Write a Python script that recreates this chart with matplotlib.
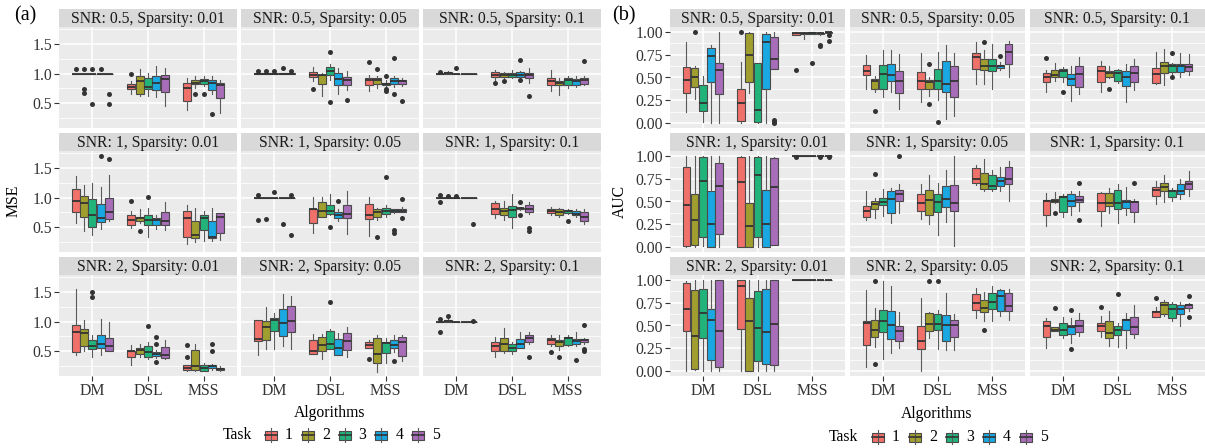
import matplotlib
matplotlib.use("Agg")
import matplotlib.pyplot as plt
from matplotlib.patches import Rectangle
from matplotlib.lines import Line2D

plt.rcParams['font.family'] = ['Liberation Serif', 'DejaVu Serif']

W, H = 1205, 448

ALGORITHMS = ["DM", "DSL", "MSS"]
TASKS = ["1", "2", "3", "4", "5"]
TASK_COLORS = ["#F0706A", "#A09E2E", "#22B37B", "#1AA8E2", "#A86DB8"]
SNR_LEVELS = ["0.5", "1", "2"]
SPARSITY_LEVELS = ["0.01", "0.05", "0.1"]

# each box: (whisker low, q1, median, q3, whisker high, outliers); groups: DM, DSL, MSS; tasks 1..5
MSE_05_001 = [
    [(1.00, 1.00, 1.00, 1.00, 1.00, [1.08]), (1.00, 1.00, 1.00, 1.00, 1.00, [1.08, 0.74, 0.68]),
     (1.00, 1.00, 1.00, 1.00, 1.00, [1.08, 0.49]), (1.00, 1.00, 1.00, 1.00, 1.00, [1.08]),
     (1.00, 1.00, 1.00, 1.00, 1.00, [0.66, 0.49])],
    [(0.65, 0.74, 0.78, 0.82, 0.87, [1.00]), (0.62, 0.66, 0.87, 0.96, 1.08, []),
     (0.62, 0.74, 0.78, 0.93, 1.01, []), (0.60, 0.73, 0.84, 0.96, 1.13, []),
     (0.46, 0.69, 0.91, 0.98, 1.10, [])],
    [(0.39, 0.54, 0.76, 0.84, 0.93, []), (0.76, 0.82, 0.84, 0.90, 0.96, [0.65]),
     (0.79, 0.82, 0.88, 0.91, 0.96, [0.65]), (0.65, 0.73, 0.84, 0.90, 0.96, [0.32]),
     (0.34, 0.59, 0.80, 0.84, 0.90, [])],
]
MSE_05_005 = [
    [(1.00, 1.00, 1.00, 1.01, 1.01, [1.04]), (1.00, 1.00, 1.00, 1.01, 1.01, [1.04]),
     (1.00, 1.00, 1.00, 1.01, 1.01, [1.04]), (1.00, 1.00, 1.00, 1.01, 1.01, [1.09]),
     (1.00, 1.00, 1.00, 1.01, 1.01, [1.04])],
    [(0.87, 0.94, 0.97, 1.03, 1.12, [0.74]), (0.63, 0.82, 0.97, 0.98, 1.01, []),
     (0.90, 0.97, 1.05, 1.11, 1.16, [1.36, 0.52]), (0.66, 0.81, 0.91, 1.01, 1.10, []),
     (0.73, 0.80, 0.90, 0.94, 1.04, [0.56])],
    [(0.70, 0.80, 0.90, 0.92, 0.98, [1.20]), (0.76, 0.83, 0.90, 0.93, 0.96, [1.08]),
     (0.77, 0.80, 0.83, 0.85, 0.90, [0.96, 0.74, 0.70]), (0.78, 0.83, 0.88, 0.92, 0.96, [1.26, 0.66]),
     (0.79, 0.82, 0.88, 0.90, 0.93, [0.54])],
]
MSE_05_01 = [
    [(1.00, 1.00, 1.00, 1.00, 1.00, [1.02]), (0.99, 1.00, 1.01, 1.03, 1.04, []),
     (1.00, 1.00, 1.00, 1.00, 1.00, [1.10]), (1.00, 1.00, 1.00, 1.00, 1.00, []),
     (1.00, 1.00, 1.00, 1.00, 1.00, [])],
    [(0.90, 0.94, 0.98, 1.02, 1.06, [0.84]), (0.93, 0.94, 0.98, 1.01, 1.02, [0.88]),
     (0.93, 0.95, 0.98, 1.01, 1.06, []), (0.91, 0.94, 0.98, 1.02, 1.05, [1.23, 0.90]),
     (0.84, 0.92, 0.98, 1.01, 1.10, [0.62])],
    [(0.70, 0.81, 0.87, 0.92, 1.06, []), (0.64, 0.80, 0.84, 0.87, 0.93, []),
     (0.76, 0.81, 0.90, 0.93, 0.96, []), (0.78, 0.81, 0.88, 0.91, 0.96, []),
     (0.80, 0.83, 0.90, 0.93, 0.96, [1.22])],
]
MSE_1_001 = [
    [(0.57, 0.75, 0.94, 1.15, 1.37, []), (0.44, 0.68, 0.91, 1.02, 1.21, []),
     (0.37, 0.50, 0.71, 0.97, 1.25, []), (0.47, 0.58, 0.66, 0.90, 1.18, [1.71]),
     (0.61, 0.64, 0.75, 0.99, 1.39, [1.65])],
    [(0.48, 0.54, 0.62, 0.70, 0.78, [0.95]), (0.57, 0.61, 0.66, 0.68, 0.80, [0.43]),
     (0.34, 0.54, 0.62, 0.71, 0.83, [1.01]), (0.47, 0.54, 0.62, 0.66, 0.70, []),
     (0.45, 0.53, 0.60, 0.75, 0.93, [])],
    [(0.21, 0.33, 0.66, 0.77, 0.87, []), (0.25, 0.31, 0.37, 0.60, 0.83, []),
     (0.27, 0.45, 0.66, 0.71, 0.78, []), (0.27, 0.31, 0.33, 0.61, 0.83, []),
     (0.28, 0.41, 0.68, 0.74, 0.74, [])],
]
MSE_1_005 = [
    [(1.00, 1.00, 1.00, 1.00, 1.00, [1.05, 0.62]), (1.00, 1.00, 1.00, 1.00, 1.00, [0.64]),
     (1.00, 1.00, 1.00, 1.00, 1.00, [1.10]), (1.00, 1.00, 1.00, 1.00, 1.00, [0.55]),
     (1.00, 1.00, 1.00, 1.00, 1.00, [1.05, 0.37])],
    [(0.41, 0.57, 0.80, 0.81, 1.01, []), (0.67, 0.68, 0.78, 0.93, 1.01, []),
     (0.70, 0.73, 0.78, 0.87, 1.06, [0.50]), (0.60, 0.66, 0.70, 0.75, 0.80, [0.95]),
     (0.39, 0.66, 0.73, 0.87, 1.11, [])],
    [(0.35, 0.64, 0.70, 0.89, 1.01, []), (0.62, 0.67, 0.75, 0.81, 0.82, [0.33]),
     (0.68, 0.73, 0.78, 0.83, 0.87, [1.35]), (0.74, 0.75, 0.78, 0.80, 0.81, [0.45, 0.41]),
     (0.75, 0.75, 0.78, 0.81, 0.85, [0.97, 0.65])],
]
MSE_1_01 = [
    [(1.00, 1.00, 1.00, 1.00, 1.00, [1.05, 0.93]), (1.00, 1.00, 1.00, 1.00, 1.00, [1.03]),
     (1.00, 1.00, 1.00, 1.00, 1.00, [1.03]), (1.00, 1.00, 1.00, 1.00, 1.00, []),
     (1.00, 1.00, 1.00, 1.00, 1.00, [0.55])],
    [(0.66, 0.73, 0.81, 0.91, 0.95, []), (0.63, 0.71, 0.78, 0.83, 0.94, []),
     (0.49, 0.67, 0.79, 0.86, 1.07, []), (0.79, 0.81, 0.82, 0.83, 0.85, [0.93, 0.70]),
     (0.73, 0.75, 0.81, 0.88, 0.93, [0.49, 0.43])],
    [(0.70, 0.74, 0.78, 0.81, 0.85, []), (0.67, 0.70, 0.75, 0.81, 0.83, []),
     (0.72, 0.74, 0.77, 0.79, 0.81, [0.61]), (0.68, 0.70, 0.73, 0.78, 0.81, []),
     (0.55, 0.61, 0.68, 0.75, 0.80, [])],
]
MSE_2_001 = [
    [(0.43, 0.49, 0.83, 0.95, 1.56, []), (0.50, 0.59, 0.80, 0.87, 1.02, []),
     (0.41, 0.53, 0.59, 0.69, 0.77, [1.51, 1.41]), (0.43, 0.56, 0.63, 0.78, 1.05, []),
     (0.50, 0.51, 0.59, 0.72, 1.00, [])],
    [(0.26, 0.41, 0.50, 0.51, 0.60, []), (0.41, 0.46, 0.52, 0.56, 0.62, []),
     (0.36, 0.41, 0.49, 0.59, 0.66, [0.92]), (0.38, 0.42, 0.45, 0.48, 0.52, [0.74, 0.62, 0.31]),
     (0.37, 0.38, 0.43, 0.57, 0.69, [])],
    [(0.16, 0.18, 0.22, 0.26, 0.27, [0.60, 0.40]), (0.16, 0.18, 0.25, 0.52, 0.63, []),
     (0.17, 0.17, 0.22, 0.26, 0.30, []), (0.18, 0.21, 0.25, 0.27, 0.28, [0.63, 0.51]),
     (0.17, 0.18, 0.20, 0.22, 0.25, [])],
]
MSE_2_005 = [
    [(0.43, 0.67, 0.70, 1.02, 1.02, []), (0.54, 0.69, 0.91, 1.01, 1.24, []),
     (0.54, 0.84, 1.02, 1.06, 1.14, []), (0.59, 0.76, 0.98, 1.21, 1.47, []),
     (0.53, 0.82, 1.01, 1.27, 1.43, [])],
    [(0.45, 0.45, 0.50, 0.69, 0.79, []), (0.37, 0.50, 0.60, 0.74, 0.79, []),
     (0.53, 0.53, 0.63, 0.84, 0.88, [1.33]), (0.43, 0.43, 0.56, 0.70, 0.81, []),
     (0.40, 0.52, 0.67, 0.81, 0.91, [])],
    [(0.56, 0.56, 0.60, 0.66, 0.69, [0.37]), (0.15, 0.30, 0.46, 0.72, 0.78, []),
     (0.30, 0.47, 0.64, 0.66, 0.72, []), (0.48, 0.56, 0.61, 0.69, 0.78, [0.34]),
     (0.33, 0.42, 0.65, 0.74, 0.78, [])],
]
MSE_2_01 = [
    [(1.00, 1.00, 1.00, 1.00, 1.00, [1.04, 0.82]), (1.00, 1.00, 1.01, 1.02, 1.04, [1.10]),
     (1.00, 1.00, 1.00, 1.00, 1.00, []), (1.00, 1.00, 1.00, 1.00, 1.00, []),
     (1.00, 1.00, 1.00, 1.00, 1.00, [1.01])],
    [(0.40, 0.50, 0.59, 0.65, 0.74, []), (0.47, 0.51, 0.63, 0.72, 0.89, []),
     (0.45, 0.50, 0.55, 0.62, 0.66, []), (0.55, 0.55, 0.62, 0.70, 0.83, []),
     (0.63, 0.66, 0.72, 0.77, 0.82, [0.40])],
    [(0.58, 0.63, 0.69, 0.72, 0.78, [0.48]), (0.52, 0.59, 0.66, 0.69, 0.78, [0.40]),
     (0.58, 0.60, 0.72, 0.74, 0.78, []), (0.58, 0.62, 0.67, 0.70, 0.83, [0.35]),
     (0.62, 0.66, 0.69, 0.70, 0.72, [0.94, 0.54, 0.50])],
]

AUC_05_001 = [
    [(0.12, 0.33, 0.47, 0.61, 0.89, []), (0.27, 0.40, 0.51, 0.60, 0.62, [1.00]),
     (0.02, 0.14, 0.22, 0.42, 0.52, []), (0.00, 0.45, 0.73, 0.82, 0.85, []),
     (0.00, 0.32, 0.58, 0.66, 1.00, [])],
    [(0.00, 0.03, 0.22, 0.37, 0.67, [1.00]), (0.33, 0.45, 0.75, 0.99, 1.00, []),
     (0.00, 0.02, 0.15, 0.66, 0.66, []), (0.00, 0.38, 0.89, 0.97, 1.00, []),
     (0.59, 0.59, 0.70, 0.94, 1.00, [0.04, 0.02, 0.00])],
    [(0.96, 0.96, 0.98, 0.99, 1.00, [0.58]), (0.92, 0.97, 0.98, 0.99, 1.00, []),
     (0.97, 0.97, 0.99, 1.00, 1.00, [0.66]), (0.96, 0.97, 0.98, 0.99, 1.00, [0.85, 0.84]),
     (0.99, 0.99, 1.00, 1.00, 1.00, [0.96, 0.90])],
]
AUC_05_005 = [
    [(0.37, 0.53, 0.57, 0.64, 0.75, []), (0.34, 0.38, 0.46, 0.48, 0.52, [0.14]),
     (0.29, 0.38, 0.54, 0.64, 0.80, []), (0.34, 0.46, 0.53, 0.65, 0.80, []),
     (0.16, 0.33, 0.46, 0.57, 0.76, [])],
    [(0.23, 0.38, 0.46, 0.56, 0.77, []), (0.30, 0.38, 0.45, 0.47, 0.50, [0.65, 0.21]),
     (0.25, 0.37, 0.46, 0.59, 0.78, [0.02]), (0.05, 0.34, 0.43, 0.68, 0.85, []),
     (0.08, 0.29, 0.46, 0.62, 0.77, [])],
    [(0.43, 0.59, 0.72, 0.77, 0.89, []), (0.43, 0.58, 0.63, 0.70, 0.80, [0.89]),
     (0.38, 0.57, 0.62, 0.70, 0.87, []), (0.58, 0.60, 0.62, 0.64, 0.67, [0.73]),
     (0.51, 0.65, 0.78, 0.86, 0.90, [])],
]
AUC_05_01 = [
    [(0.34, 0.45, 0.50, 0.55, 0.58, [0.71]), (0.46, 0.51, 0.53, 0.58, 0.66, []),
     (0.45, 0.50, 0.57, 0.59, 0.61, [0.34]), (0.24, 0.42, 0.48, 0.54, 0.63, []),
     (0.32, 0.40, 0.54, 0.62, 0.72, [])],
    [(0.34, 0.45, 0.57, 0.63, 0.68, []), (0.49, 0.51, 0.55, 0.57, 0.63, [0.38]),
     (0.44, 0.46, 0.55, 0.58, 0.59, []), (0.23, 0.41, 0.50, 0.57, 0.65, []),
     (0.36, 0.45, 0.55, 0.62, 0.70, [])],
    [(0.43, 0.44, 0.54, 0.60, 0.78, []), (0.42, 0.55, 0.63, 0.67, 0.81, []),
     (0.53, 0.56, 0.62, 0.65, 0.66, [0.77, 0.51]), (0.51, 0.56, 0.62, 0.65, 0.77, []),
     (0.53, 0.57, 0.61, 0.65, 0.76, [])],
]
AUC_1_001 = [
    [(0.00, 0.01, 0.46, 0.88, 1.00, []), (0.00, 0.03, 0.30, 0.58, 1.00, []),
     (0.01, 0.11, 0.72, 0.99, 1.00, []), (0.00, 0.00, 0.25, 0.61, 1.00, []),
     (0.00, 0.15, 0.67, 0.92, 1.00, [])],
    [(0.00, 0.00, 0.71, 0.99, 1.00, []), (0.00, 0.00, 0.23, 0.48, 1.00, []),
     (0.00, 0.11, 0.79, 0.99, 1.00, []), (0.00, 0.00, 0.25, 0.62, 1.00, []),
     (0.03, 0.03, 0.66, 0.97, 0.99, [])],
    [(1.00, 1.00, 1.00, 1.00, 1.00, [0.99]), (1.00, 1.00, 1.00, 1.00, 1.00, []),
     (1.00, 1.00, 1.00, 1.00, 1.00, []), (1.00, 1.00, 1.00, 1.00, 1.00, [0.99]),
     (1.00, 1.00, 1.00, 1.00, 1.00, [0.99])],
]
AUC_1_005 = [
    [(0.30, 0.33, 0.40, 0.45, 0.61, []), (0.32, 0.42, 0.47, 0.51, 0.54, [0.80]),
     (0.34, 0.46, 0.49, 0.54, 0.64, []), (0.27, 0.37, 0.53, 0.61, 0.65, []),
     (0.37, 0.51, 0.58, 0.63, 0.69, [1.00])],
    [(0.31, 0.40, 0.48, 0.58, 0.69, []), (0.25, 0.35, 0.52, 0.63, 0.79, []),
     (0.14, 0.39, 0.49, 0.58, 0.70, []), (0.28, 0.44, 0.53, 0.67, 0.84, []),
     (0.01, 0.40, 0.48, 0.68, 1.00, [])],
    [(0.68, 0.70, 0.75, 0.87, 0.90, []), (0.61, 0.64, 0.69, 0.81, 0.96, []),
     (0.61, 0.64, 0.67, 0.79, 0.84, []), (0.61, 0.67, 0.72, 0.77, 0.88, []),
     (0.51, 0.69, 0.74, 0.88, 0.94, [])],
]
AUC_1_01 = [
    [(0.23, 0.35, 0.50, 0.52, 0.59, []), (0.48, 0.49, 0.51, 0.53, 0.60, [0.37]),
     (0.33, 0.39, 0.55, 0.56, 0.58, []), (0.35, 0.45, 0.51, 0.58, 0.61, []),
     (0.40, 0.49, 0.52, 0.56, 0.61, [0.70, 0.30])],
    [(0.23, 0.40, 0.48, 0.59, 0.60, []), (0.37, 0.45, 0.48, 0.59, 0.65, []),
     (0.27, 0.42, 0.48, 0.62, 0.69, []), (0.35, 0.43, 0.49, 0.52, 0.66, []),
     (0.28, 0.39, 0.49, 0.51, 0.53, [0.70])],
    [(0.47, 0.56, 0.63, 0.66, 0.72, []), (0.49, 0.61, 0.66, 0.70, 0.79, []),
     (0.51, 0.55, 0.61, 0.63, 0.65, []), (0.53, 0.58, 0.61, 0.69, 0.75, []),
     (0.56, 0.64, 0.69, 0.72, 0.83, [])],
]
AUC_2_001 = [
    [(0.00, 0.44, 0.68, 0.96, 0.99, []), (0.01, 0.03, 0.39, 0.89, 1.00, []),
     (0.00, 0.36, 0.64, 0.90, 1.00, []), (0.00, 0.12, 0.56, 0.68, 1.00, []),
     (0.00, 0.05, 0.44, 1.00, 1.00, [])],
    [(0.00, 0.46, 0.93, 1.00, 1.00, []), (0.00, 0.00, 0.55, 0.80, 1.00, []),
     (0.00, 0.11, 0.47, 0.88, 1.00, []), (0.00, 0.08, 0.43, 0.90, 1.00, []),
     (0.00, 0.07, 0.52, 1.00, 1.00, [])],
    [(1.00, 1.00, 1.00, 1.00, 1.00, []), (1.00, 1.00, 1.00, 1.00, 1.00, []),
     (1.00, 1.00, 1.00, 1.00, 1.00, []), (1.00, 1.00, 1.00, 1.00, 1.00, []),
     (1.00, 1.00, 1.00, 1.00, 1.00, [])],
]
AUC_2_005 = [
    [(0.05, 0.29, 0.53, 0.55, 0.89, []), (0.27, 0.38, 0.45, 0.56, 0.69, [0.99, 0.08]),
     (0.13, 0.43, 0.55, 0.67, 0.99, []), (0.20, 0.35, 0.50, 0.66, 0.93, []),
     (0.25, 0.33, 0.44, 0.49, 0.65, [])],
    [(0.00, 0.24, 0.33, 0.49, 0.80, []), (0.36, 0.44, 0.52, 0.64, 0.65, [0.99]),
     (0.24, 0.45, 0.52, 0.63, 0.67, [0.99]), (0.23, 0.33, 0.50, 0.61, 0.85, []),
     (0.23, 0.38, 0.51, 0.56, 0.62, [])],
    [(0.58, 0.67, 0.75, 0.84, 0.91, []), (0.55, 0.65, 0.69, 0.78, 0.87, [0.45]),
     (0.55, 0.68, 0.76, 0.85, 0.93, []), (0.60, 0.66, 0.82, 0.89, 0.90, []),
     (0.56, 0.66, 0.71, 0.85, 0.90, [])],
]
AUC_2_01 = [
    [(0.25, 0.38, 0.49, 0.55, 0.58, []), (0.44, 0.44, 0.45, 0.48, 0.48, [0.69]),
     (0.36, 0.40, 0.45, 0.53, 0.59, []), (0.31, 0.41, 0.48, 0.51, 0.58, [0.67, 0.24]),
     (0.39, 0.43, 0.49, 0.56, 0.64, [])],
    [(0.38, 0.44, 0.49, 0.53, 0.60, [0.70]), (0.28, 0.36, 0.42, 0.55, 0.66, []),
     (0.27, 0.40, 0.45, 0.49, 0.53, [0.84]), (0.25, 0.45, 0.56, 0.57, 0.64, []),
     (0.36, 0.41, 0.48, 0.59, 0.72, [])],
    [(0.59, 0.59, 0.65, 0.66, 0.70, [0.80]), (0.60, 0.62, 0.72, 0.76, 0.78, []),
     (0.55, 0.58, 0.68, 0.73, 0.76, []), (0.49, 0.63, 0.68, 0.72, 0.76, []),
     (0.66, 0.69, 0.72, 0.73, 0.75, [0.82, 0.59])],
]

MSE_GRID = [[MSE_05_001, MSE_05_005, MSE_05_01],
            [MSE_1_001, MSE_1_005, MSE_1_01],
            [MSE_2_001, MSE_2_005, MSE_2_01]]
AUC_GRID = [[AUC_05_001, AUC_05_005, AUC_05_01],
            [AUC_1_001, AUC_1_005, AUC_1_01],
            [AUC_2_001, AUC_2_005, AUC_2_01]]

MSE_TICKS = [0.5, 1.0, 1.5]
MSE_MINOR = [0.25, 0.75, 1.25, 1.75]
AUC_TICKS = [0.0, 0.25, 0.5, 0.75, 1.0]
AUC_MINOR = [0.125, 0.375, 0.625, 0.875]

FS = 11.3
DARK = "#333333"

fig = plt.figure(figsize=(W / 100, H / 100), dpi=100)


def px_axes(x, y, w, h):
    return fig.add_axes([x / W, 1 - (y + h) / H, w / W, h / H])


def px_text(x, y, s, **kw):
    fig.text(x / W, 1 - y / H, s, **kw)


def draw_facet(ax, facet, ylim, ticks, minor, ticklabels, show_x, show_y):
    ax.set_facecolor("#EBEBEB")
    for a, group in enumerate(facet):
        stats = [dict(whislo=b[0], q1=b[1], med=b[2], q3=b[3], whishi=b[4], fliers=b[5])
                 for b in group]
        positions = [a + 1 + (t - 2) * 0.15 for t in range(len(group))]
        bp = ax.bxp(stats, positions=positions, widths=0.14, patch_artist=True,
                    showcaps=False, manage_ticks=False,
                    boxprops=dict(edgecolor="#4a4a4a", linewidth=0.8),
                    whiskerprops=dict(color="#5a5a5a", linewidth=0.8),
                    medianprops=dict(color=DARK, linewidth=1.3),
                    flierprops=dict(marker="o", markersize=3.6, markerfacecolor=DARK,
                                    markeredgecolor="none"))
        for patch, c in zip(bp["boxes"], TASK_COLORS):
            patch.set_facecolor(c)
    ax.set_xlim(0.4, 3.6)
    ax.set_ylim(*ylim)
    ax.set_xticks([1, 2, 3])
    ax.set_yticks(ticks)
    ax.set_yticks(minor, minor=True)
    ax.grid(which="major", color="white", linewidth=1.1)
    ax.grid(which="minor", axis="y", color="white", linewidth=0.55)
    ax.set_axisbelow(True)
    for s in ax.spines.values():
        s.set_visible(False)
    ax.tick_params(which="minor", length=0)
    ax.tick_params(axis="both", which="major", length=3.5 if True else 0, width=0.8,
                   color=DARK, labelcolor=DARK, labelsize=FS, pad=1.5)
    if show_x:
        ax.set_xticklabels(ALGORITHMS)
    else:
        ax.tick_params(axis="x", length=0, labelbottom=False)
    if show_y:
        ax.set_yticklabels(ticklabels)
    else:
        ax.tick_params(axis="y", length=0, labelleft=False)


def draw_panel(grid, col_x, col_w, ylim, ticks, minor, ticklabels):
    plot_tops = [27, 151, 275]
    for r in range(3):
        for c in range(3):
            ax = px_axes(col_x[c], plot_tops[r], col_w, 101)
            draw_facet(ax, grid[r][c], ylim, ticks, minor, ticklabels, r == 2, c == 0)
            sx = px_axes(col_x[c], plot_tops[r] - 18, col_w, 18)
            sx.set_facecolor("#D9D9D9")
            sx.set_xticks([])
            sx.set_yticks([])
            for s in sx.spines.values():
                s.set_visible(False)
            sx.text(0.5, 0.45, f"SNR: {SNR_LEVELS[r]}, Sparsity: {SPARSITY_LEVELS[c]}",
                    ha="center", va="center", fontsize=FS, color="#1A1A1A",
                    transform=sx.transAxes)


def draw_legend(x_task, key_x0, pitch, yc):
    px_text(x_task, yc, "Task", ha="center", va="center", fontsize=FS)
    for i, (lab, c) in enumerate(zip(TASKS, TASK_COLORS)):
        kx = key_x0 + i * pitch
        fig.add_artist(Line2D([(kx + 6) / W] * 2, [1 - (yc - 7) / H, 1 - (yc + 7) / H],
                              transform=fig.transFigure, color="#5a5a5a", lw=0.8))
        fig.add_artist(Rectangle((kx / W, 1 - (yc + 4.5) / H), 12 / W, 9 / H,
                                 transform=fig.transFigure, facecolor=c,
                                 edgecolor="#4a4a4a", lw=0.8))
        fig.add_artist(Line2D([kx / W, (kx + 12) / W], [1 - yc / H] * 2,
                              transform=fig.transFigure, color=DARK, lw=1.2))
        px_text(kx + 24, yc, lab, ha="center", va="center", fontsize=FS)


# (a) MSE
draw_panel(MSE_GRID, [59, 241, 423], 178, (0.08, 1.79), MSE_TICKS, MSE_MINOR,
           ["0.5", "1.0", "1.5"])
px_text(25, 16, "(a)", ha="center", va="center", fontsize=14.5)
px_text(14, 201, "MSE", ha="center", va="center", rotation=90, fontsize=FS)
px_text(330, 413, "Algorithms", ha="center", va="center", fontsize=FS)
draw_legend(237, 265, 36.8, 435)

# (b) AUC
draw_panel(AUC_GRID, [670, 850, 1030], 175, (-0.05, 1.05), AUC_TICKS, AUC_MINOR,
           ["0.00", "0.25", "0.50", "0.75", "1.00"])
px_text(624, 16, "(b)", ha="center", va="center", fontsize=14.5)
px_text(620, 201, "AUC", ha="center", va="center", rotation=90, fontsize=FS)
px_text(937, 414, "Algorithms", ha="center", va="center", fontsize=FS)
draw_legend(843, 872, 37.0, 437)

fig.savefig("out.png", dpi=100)
